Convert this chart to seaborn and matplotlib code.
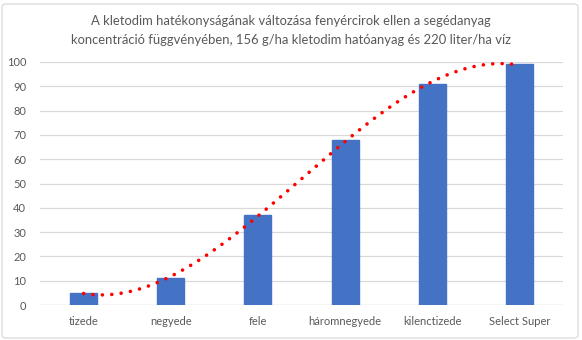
import numpy as np
import pandas as pd
import seaborn as sns
import matplotlib
matplotlib.use("Agg")
import matplotlib.pyplot as plt
from matplotlib.patches import FancyBboxPatch

categories = ["tizede", "negyede", "fele", "háromnegyede", "kilenctizede", "Select Super"]
values = [5, 11, 37, 68, 91, 99]
yticks = [0, 10, 20, 30, 40, 50, 60, 70, 80, 90, 100]
title = ("A kletodim hatékonyságának változása fenyércirok ellen a segédanyag\n"
         "koncentráció függvényében, 156 g/ha kletodim hatóanyag és 220 liter/ha víz")

sns.set_theme(style="white")
plt.rcParams["font.family"] = ["Lato", "DejaVu Sans"]

df = pd.DataFrame({"cat": categories, "val": values})

fig = plt.figure(figsize=(5.82, 3.40), dpi=100)
ax = fig.add_axes([40 / 582, 1 - 305 / 340, 523 / 582, (305 - 62) / 340])

ax.set_axisbelow(True)
sns.barplot(data=df, x="cat", y="val", color="#4472C4", saturation=1, width=0.31, ax=ax,
            edgecolor="#4472C4")

# polynomial trendline (order 3) like Excel
xi = np.arange(len(values))
coef = np.polyfit(xi, values, 3)
xs = np.linspace(0, len(values) - 1, 300)
ax.plot(xs, np.polyval(coef, xs), color="#FF0000", lw=2.6, linestyle=(0, (0.01, 2.6)),
        dash_capstyle="round", zorder=5)

ax.set_xlim(-0.5, len(categories) - 0.5)
ax.set_ylim(0, 100)
ax.set_yticks(yticks)
ax.yaxis.grid(True, color="#D9D9D9", lw=0.9)
ax.xaxis.grid(False)
for s in ax.spines.values():
    s.set_visible(False)
ax.axhline(0, color="#D9D9D9", lw=0.9, zorder=0)
ax.set_xlabel("")
ax.set_ylabel("")
ax.tick_params(axis="both", length=0, colors="#595959", labelsize=8)
ax.tick_params(axis="x", pad=8)
ax.tick_params(axis="y", pad=10)

fig.text(0.5, 1 - 30.5 / 340, title, ha="center", va="center", fontsize=9.4,
         color="#595959", linespacing=1.65)

border = FancyBboxPatch((2 / 582, 2 / 340), 576 / 582, 334 / 340,
                        boxstyle="round,pad=0,rounding_size=0.008",
                        transform=fig.transFigure, fill=False, edgecolor="#D9D9D9", lw=0.9)
fig.patches.append(border)

fig.savefig("out.png", dpi=100)
